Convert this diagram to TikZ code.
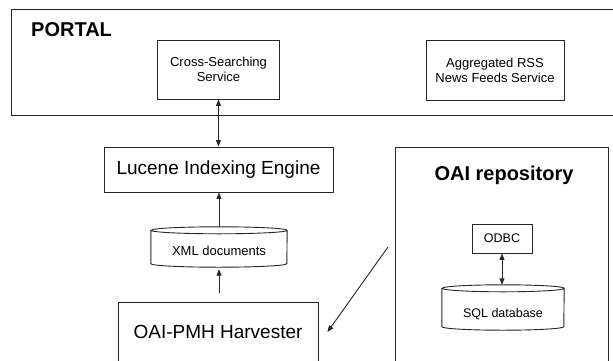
\documentclass[tikz,border=0pt]{standalone}
\usepackage{fontspec}
\setmainfont{Liberation Sans}
\usetikzlibrary{arrows.meta}

% flat cylinder drawn round a (borderless) rectangular node; #2 = half width in pt
\newcommand\drawdrum[2]{%
  \draw[wire]
    ([yshift=-3.5pt]#1.north west) -- ([yshift=3.5pt]#1.south west)
    arc[start angle=180, end angle=360, x radius=#2pt, y radius=3.5pt]
    -- ([yshift=-3.5pt]#1.north east)
    arc[start angle=0, end angle=180, x radius=#2pt, y radius=3.5pt]
    arc[start angle=180, end angle=360, x radius=#2pt, y radius=3.5pt];%
}

\begin{document}
\begin{tikzpicture}[x=1pt, y=1pt,
  wire/.style={line width=0.9pt, draw=black!85},
  box/.style={wire, draw, inner sep=0pt, align=center},
  small/.style={font=\fontsize{13}{15}\selectfont},
  tiny/.style={font=\fontsize{12.5}{15}\selectfont},
  big/.style={font=\fontsize{19}{22}\selectfont},
  heading/.style={font=\bfseries\fontsize{20}{24}\selectfont, inner sep=0pt},
  drum/.style={inner sep=0pt, align=center},
  arr/.style={wire, -{Triangle[length=6.5pt, width=5pt]}},
  biarr/.style={wire, {Triangle[length=6.5pt, width=5pt]}-{Triangle[length=6.5pt, width=5pt]}}
]
\useasboundingbox (0,0) rectangle (613,360);
\clip (0,0) rectangle (613,360);

% portal frame (runs past the right edge)
\node[box, minimum width=614pt, minimum height=106pt] (portal) at (318,298) {};
\node[heading, anchor=base west] (portaltitle) at (31,323.3) {PORTAL};

\node[box, small, minimum width=122pt, minimum height=59pt] (cross) at (218.5,290.5)
  {Cross-Searching\\Service};
\node[box, small, minimum width=138pt, minimum height=60pt] (rss) at (495,290)
  {Aggregated RSS\\News Feeds Service};

% indexing chain
\node[box, big, minimum width=229pt, minimum height=45pt] (luc) at (218.5,190.5)
  {Lucene Indexing Engine};
\node[drum, small, minimum width=136pt, minimum height=40pt,
      text height=20pt, text depth=2.6pt] (xml) at (219,113) {XML documents};
\drawdrum{xml}{68}
\node[box, big, minimum width=200pt, minimum height=60pt] (harv) at (218,28)
  {OAI-PMH Harvester};

% repository frame (runs past the bottom edge)
\node[box, minimum width=213pt, minimum height=215pt] (repo) at (501.5,105.5) {};
\node[heading, anchor=base] (repotitle) at (504,180) {OAI repository};
\node[box, tiny, minimum width=60pt, minimum height=29pt] (odbc) at (502,121.5) {ODBC};
\node[drum, tiny, minimum width=122pt, minimum height=45pt,
      text height=22pt, text depth=1.8pt] (sql) at (503,52.5) {SQL database};
\drawdrum{sql}{61}

% connectors
\draw[biarr] (cross.south) -- (cross.south |- luc.north);
\draw[arr] (xml.north) -- (xml.north |- luc.south);
\draw[arr, shorten <=9pt, shorten >=2pt] (xml.south |- harv.north) -- (xml.south);
\draw[biarr] (odbc.south) -- (odbc.south |- sql.north);
\coordinate (feed) at (388,113);
\draw[arr] (feed) -- ([xshift=9pt]harv.east);
\end{tikzpicture}
\end{document}
